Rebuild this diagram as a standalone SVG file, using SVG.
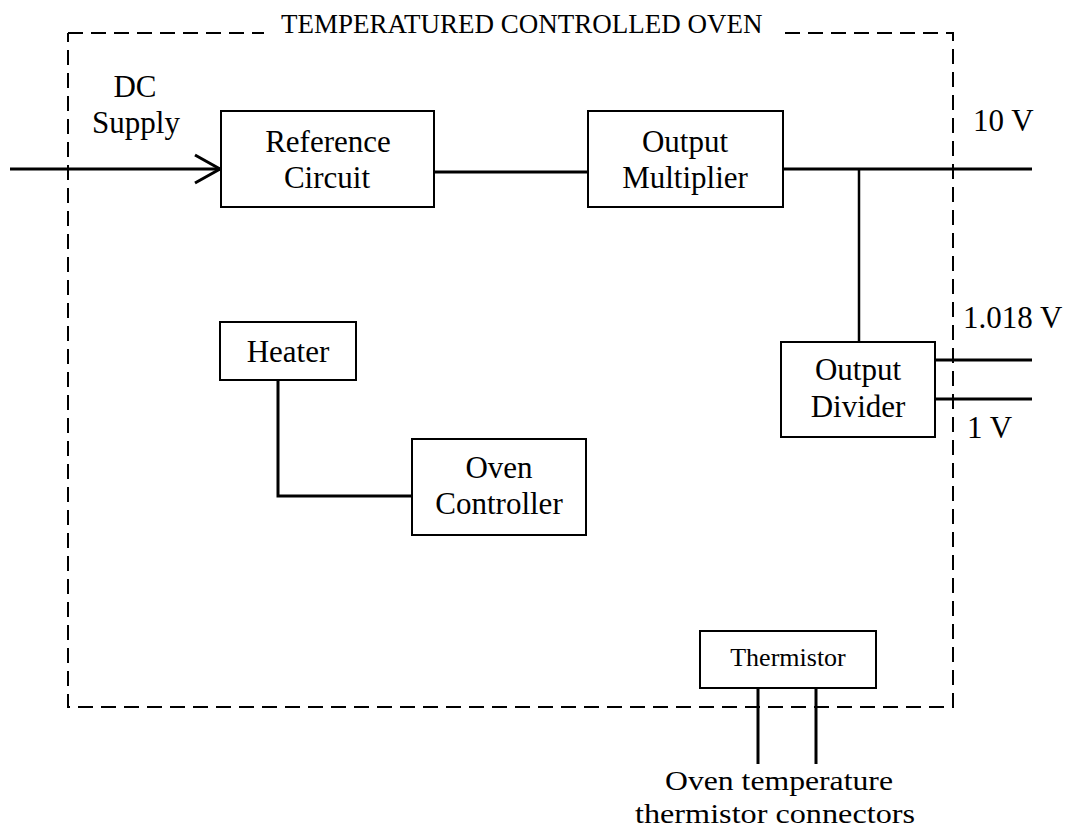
<svg xmlns="http://www.w3.org/2000/svg" width="1065" height="831" viewBox="0 0 1065 831">
  <style>
    .box { fill: #fff; stroke: #000; stroke-width: 2; }
    .wire { fill: none; stroke: #000; stroke-width: 3; stroke-linecap: butt; }
    .thin { fill: none; stroke: #000; stroke-width: 2.5; }
    .dash { fill: none; stroke: #000; stroke-width: 2; stroke-dasharray: 15 8; }
    text { font-family: "Liberation Serif", "Times New Roman", serif; fill: #000; }
    .lbl { font-size: 31px; text-anchor: middle; }
    .side { font-size: 31px; }
    .title { font-size: 27px; }
    .small { font-size: 26px; text-anchor: middle; }
    .foot { font-size: 28px; }
  </style>
  <rect width="1065" height="831" fill="#fff"/>

  <!-- oven enclosure -->
  <g id="oven">
    <path class="dash" d="M68,33 H264"/>
    <path class="dash" d="M785,33 H953 V707 H68 V33"/>
    <text class="title" x="281" y="33">TEMPERATURED CONTROLLED OVEN</text>
  </g>

  <!-- connectors -->
  <g id="connectors">
    <path class="wire" d="M10,169 H220"/>
    <path class="wire" d="M195,155 L220,169 L195,183"/>
    <path class="wire" d="M434,172 H588"/>
    <path class="wire" d="M783,169 H1032"/>
    <path class="thin" d="M859,169 V342"/>
    <path class="wire" d="M935,360 H1032"/>
    <path class="wire" d="M935,399 H1032"/>
    <path class="wire" d="M278,380 V496 H412"/>
    <path class="wire" d="M758,688 V764"/>
    <path class="wire" d="M816,688 V764"/>
  </g>

  <g id="dc-supply">
    <text class="lbl" x="135" y="97">DC</text>
    <text class="lbl" x="136" y="133">Supply</text>
  </g>

  <g id="reference-circuit">
    <rect class="box" x="221" y="111" width="213" height="96"/>
    <text class="lbl" x="328" y="152">Reference</text>
    <text class="lbl" x="327" y="188">Circuit</text>
  </g>

  <g id="output-multiplier">
    <rect class="box" x="588" y="111" width="195" height="96"/>
    <text class="lbl" x="685" y="152">Output</text>
    <text class="lbl" x="685" y="188">Multiplier</text>
  </g>

  <g id="output-divider">
    <rect class="box" x="781" y="342" width="154" height="95"/>
    <text class="lbl" x="858" y="380">Output</text>
    <text class="lbl" x="858" y="417">Divider</text>
  </g>

  <g id="heater">
    <rect class="box" x="220" y="322" width="136" height="58"/>
    <text class="lbl" x="288" y="362">Heater</text>
  </g>

  <g id="oven-controller">
    <rect class="box" x="412" y="439" width="174" height="96"/>
    <text class="lbl" x="499" y="478">Oven</text>
    <text class="lbl" x="499" y="514">Controller</text>
  </g>

  <g id="thermistor">
    <rect class="box" x="700" y="631" width="176" height="57"/>
    <text class="small" x="788" y="666">Thermistor</text>
  </g>

  <g id="outputs">
    <text class="side" x="973" y="131">10 V</text>
    <text class="side" x="963" y="328">1.018 V</text>
    <text class="side" x="967" y="438">1 V</text>
  </g>

  <g id="thermistor-connectors">
    <text class="foot" x="665" y="790" textLength="228" lengthAdjust="spacingAndGlyphs">Oven temperature</text>
    <text class="foot" x="635" y="823" textLength="280" lengthAdjust="spacingAndGlyphs">thermistor connectors</text>
  </g>
</svg>
